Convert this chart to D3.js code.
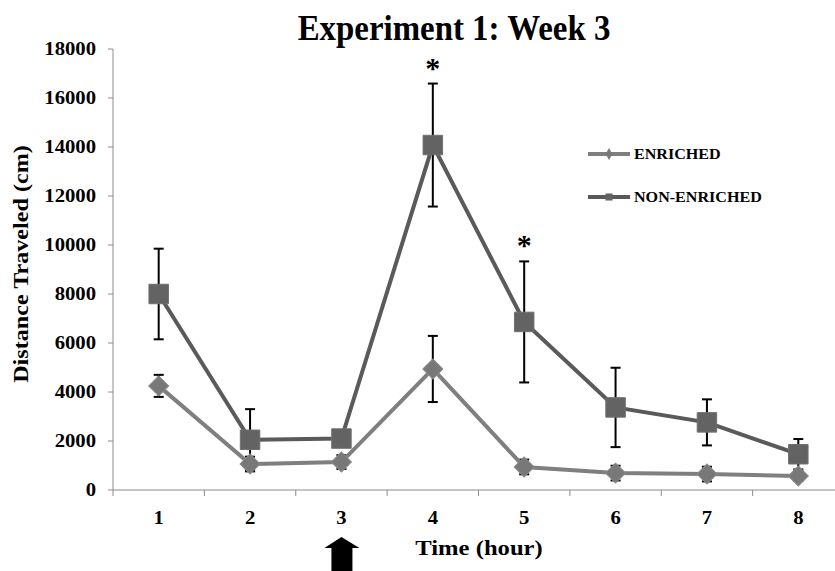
<!DOCTYPE html>
<html>
<head>
<meta charset="utf-8">
<script src="https://cdn.jsdelivr.net/npm/d3@7/dist/d3.min.js"></script>
<style>
  html, body { margin: 0; padding: 0; background: #fff; }
  svg { display: block; font-family: "Liberation Serif", "Times New Roman", serif; font-weight: bold; }
</style>
</head>
<body>
<svg id="chart" width="835" height="571"></svg>
<script>
// Locomotor activity per hour, week 3.
const hours = [1, 2, 3, 4, 5, 6, 7, 8];
const enriched = [4250, 1060, 1140, 4940, 940, 690, 650, 570];
const enrichedErr = [450, 300, 280, 1350, 300, 300, 300, 200];
const nonEnriched = [8000, 2050, 2100, 14080, 6860, 3370, 2760, 1460];
const nonEnrichedErr = [1850, 1250, 200, 2510, 2470, 1620, 940, 620];
const yTicks = [0, 2000, 4000, 6000, 8000, 10000, 12000, 14000, 16000, 18000];
const significant = [4, 5];

const svg = d3.select("#chart");
const margin = { left: 113, right: -9, top: 49, bottom: 81 };
const W = 835, H = 571;

const x = d3.scaleBand().domain(hours).range([margin.left, W - margin.right]);
const y = d3.scaleLinear().domain([0, 18000]).range([H - margin.bottom, margin.top]);
const cx = (h) => x(h) + x.bandwidth() / 2;

const axisCol = "#8c8c8c";
const colNon = "#5a5a5a", colEn = "#7f7f7f";
const fillNon = "#636363", fillEn = "#787878";

// The figure's type is a bit wider than plain Times, so stretch it horizontally.
function label(g, txt, px, py, size, anchor, sx = 1.15, rot = 0) {
  g.append("text")
    .attr("transform", `translate(${px},${py}) rotate(${rot}) scale(${sx},1)`)
    .attr("text-anchor", anchor)
    .attr("font-size", size)
    .attr("fill", "#000")
    .text(txt);
}

// Title
label(svg, "Experiment 1: Week 3", 454, 40, 35, "middle", 0.94);

// Y axis
svg.append("line").attr("x1", margin.left).attr("x2", margin.left)
  .attr("y1", y(18000)).attr("y2", y(0)).attr("stroke", axisCol).attr("stroke-width", 1);
yTicks.forEach((t) => {
  svg.append("line").attr("x1", margin.left - 5).attr("x2", margin.left)
    .attr("y1", y(t)).attr("y2", y(t)).attr("stroke", axisCol);
  label(svg, t, 96, y(t) + 6, 18, "end");
});
label(svg, "Distance Traveled (cm)", 28, 264, 21, "middle", 1.15, -90);

// X axis
svg.append("line").attr("x1", margin.left).attr("x2", W)
  .attr("y1", y(0)).attr("y2", y(0)).attr("stroke", axisCol);
hours.forEach((h) => {
  svg.append("line").attr("x1", x(h)).attr("x2", x(h))
    .attr("y1", y(0)).attr("y2", y(0) + 6).attr("stroke", axisCol);
  label(svg, h, cx(h), 524, 18, "middle");
});
label(svg, "Time (hour)", 479, 555, 22, "middle", 1.12);

// Error bars
function errBars(vals, errs) {
  const g = svg.append("g").attr("stroke", "#000").attr("stroke-width", 2);
  hours.forEach((h, i) => {
    const px = cx(h), top = y(vals[i] + errs[i]), bot = y(Math.max(0, vals[i] - errs[i]));
    g.append("line").attr("x1", px).attr("x2", px).attr("y1", top).attr("y2", bot);
    g.append("line").attr("x1", px - 5).attr("x2", px + 5).attr("y1", top).attr("y2", top);
    g.append("line").attr("x1", px - 5).attr("x2", px + 5).attr("y1", bot).attr("y2", bot);
  });
}
errBars(nonEnriched, nonEnrichedErr);
errBars(enriched, enrichedErr);

// Lines
const line = d3.line().x((d) => cx(d[0])).y((d) => y(d[1]));
svg.append("path").datum(hours.map((h, i) => [h, enriched[i]]))
  .attr("d", line).attr("fill", "none").attr("stroke", colEn).attr("stroke-width", 4);
svg.append("path").datum(hours.map((h, i) => [h, nonEnriched[i]]))
  .attr("d", line).attr("fill", "none").attr("stroke", colNon).attr("stroke-width", 4);

// Markers
const sq = d3.symbol().type(d3.symbolSquare).size(380);
const dm = d3.symbol().type(d3.symbolSquare).size(200);
svg.append("g").selectAll("path").data(hours.map((h, i) => [h, enriched[i]])).join("path")
  .attr("d", dm).attr("transform", (d) => `translate(${cx(d[0])},${y(d[1])}) rotate(45)`)
  .attr("fill", fillEn).attr("stroke", "#8a8a8a").attr("stroke-width", 1);
svg.append("g").selectAll("path").data(hours.map((h, i) => [h, nonEnriched[i]])).join("path")
  .attr("d", sq).attr("transform", (d) => `translate(${cx(d[0])},${y(d[1])})`)
  .attr("fill", fillNon).attr("stroke", "#707070").attr("stroke-width", 1);

// Significance stars
significant.forEach((h) => {
  const i = hours.indexOf(h);
  label(svg, "*", cx(h), y(nonEnriched[i] + nonEnrichedErr[i]) - 6, 30, "middle", 1);
});

// Legend
const legend = [
  { name: "ENRICHED", col: colEn, fill: fillEn, sym: d3.symbol().type(d3.symbolDiamond).size(40), yy: 154 },
  { name: "NON-ENRICHED", col: colNon, fill: fillNon, sym: d3.symbol().type(d3.symbolSquare).size(50), yy: 197 },
];
legend.forEach((l) => {
  svg.append("line").attr("x1", 588).attr("x2", 630).attr("y1", l.yy).attr("y2", l.yy)
    .attr("stroke", l.col).attr("stroke-width", 4);
  svg.append("path").attr("d", l.sym).attr("transform", `translate(609,${l.yy})`).attr("fill", l.fill);
  label(svg, l.name, 634, l.yy + 5, 14, "start");
});

// Treatment arrow under hour 3
const ax = cx(3);
svg.append("path")
  .attr("d", `M${ax},537 L${ax + 18},548 L${ax + 11},548 L${ax + 11},571 L${ax - 10},571 L${ax - 10},548 L${ax - 17},548 Z`)
  .attr("fill", "#000");
</script>
</body>
</html>
